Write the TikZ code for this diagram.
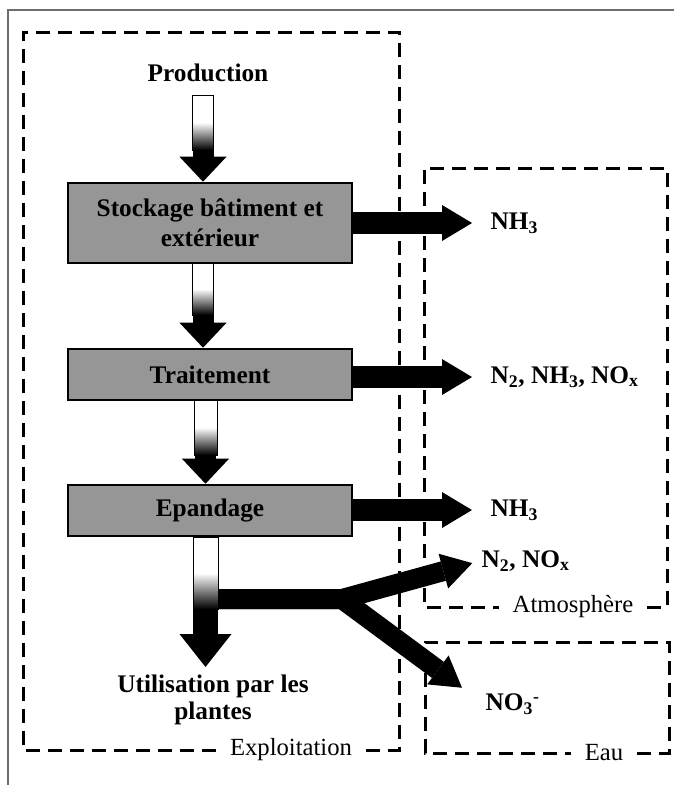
\documentclass[tikz,border=0pt]{standalone}
\usepackage{fontspec}
\setmainfont{Liberation Serif}
\usetikzlibrary{arrows.meta}

\tikzset{every picture/.style={line width=0.75pt}}
\tikzset{
  stagebox/.style={draw, line width=1.9pt, fill={rgb, 255:red, 150; green, 150; blue, 150}, minimum width=213pt, align=center, inner sep=0.75pt, font=\bfseries\fontsize{19}{22.5}\selectfont},
  flowlabel/.style={inner sep=0.75pt, align=center, font=\bfseries\fontsize{19}{20.5}\selectfont},
  zonelabel/.style={inner xsep=10pt, inner ysep=0pt, font=\fontsize{18.5}{20}\selectfont},
  zonebox/.style={line width=2.25pt, dash pattern=on 10.5pt off 6pt},
  sidearrow/.style={line width=16pt, -{Triangle[width=27pt, length=22.5pt, line width=0pt]}},
  downarrow/.style={line width=15.75pt, -{Triangle[width=35.25pt, length=18.75pt, line width=0pt]}},
  fadeshaft/.style={top color=white, bottom color=black, middle color=white, draw=black},
}

\begin{document}
\begin{tikzpicture}[x=0.75pt,y=0.75pt,yscale=-1,xscale=1]
\useasboundingbox (0,0) rectangle (674,785);

%Shape: Frame
\draw [color={rgb, 255:red, 110; green, 110; blue, 110 }, line width=1pt] (8,785) -- (8,10) -- (674,10) ;

% Text Node
\node [flowlabel] (prod) at (208,73) {Production};
% Text Node
\node [stagebox, minimum height=60pt] (stock) at (210,223) {Stockage bâtiment et\\extérieur};
% Text Node
\node [stagebox, minimum height=38.25pt] (trait) at (210,374.5) {Traitement};
% Text Node
\node [stagebox, minimum height=38.25pt] (epand) at (210,510.5) {Epandage};
% Text Node
\node [flowlabel] (plants) at (213,700) {Utilisation par les\\plantes};
% Text Node
\node [flowlabel, anchor=west] (gasa) at (489,223) {NH\textsubscript{3}};
% Text Node
\node [flowlabel, anchor=west] (gasb) at (489,377) {N\textsubscript{2}, NH\textsubscript{3}, NO\textsubscript{x}};
% Text Node
\node [flowlabel, anchor=west] (gasc) at (489,510) {NH\textsubscript{3}};
% Text Node
\node [flowlabel, anchor=west] (gasd) at (480,561) {N\textsubscript{2}, NO\textsubscript{x}};
% Text Node
\node [flowlabel, anchor=west] (leach) at (484,704) {NO\textsubscript{3}\textsuperscript{-}};

% Text Node
\node [zonelabel] (farmlab) at (291,750) {Exploitation};
% Text Node
\node [zonelabel] (airlab) at (573,607) {Atmosphère};
% Text Node
\node [zonelabel] (waterlab) at (604,753) {Eau};

%Shape: Rectangle Exploitation
\draw [zonebox] (farmlab.east) -- (399,750) -- (399,32) -- (23,32) -- (23,750) -- (farmlab.west) ;
%Shape: Rectangle Atmosphere
\draw [zonebox] (airlab.east) -- (667,607) -- (667,168) -- (424,168) -- (424,607) -- (airlab.west) ;
%Shape: Rectangle Eau
\draw [zonebox] (waterlab.east) -- (669,753) -- (669,642) -- (425,642) -- (425,753) -- (waterlab.west) ;

\coordinate (axisa) at (203,95);
\coordinate (axisb) at (205.5,0);
\coordinate (plantstip) at (205.5,667);
\coordinate (barstart) at (218,599);
\coordinate (fork) at (342,599);

%Straight Lines down
\draw [downarrow] (axisa) -- (stock.north -| axisa) ;
\draw [downarrow] (stock.south -| axisa) -- (trait.north -| axisa) ;
\draw [downarrow] (trait.south -| axisb) -- (epand.north -| axisb) ;
\draw [downarrow, line width=18.75pt, -{Triangle[width=39pt, length=24.75pt, line width=0pt]}] (epand.south -| axisb) -- (plantstip) ;

%Shape: shaded shafts
\shade [fadeshaft] (192.5,95) rectangle (213.5,150) ;
\shade [fadeshaft] (192.5,263) rectangle (213.5,315) ;
\shade [fadeshaft] (194,400) rectangle (217,455) ;
\shade [fadeshaft] (193,537) rectangle (218,609) ;

%Straight Lines sideways
\draw [sidearrow, shorten >=12.75pt] (stock.east |- gasa) -- (gasa.west) ;
\draw [sidearrow, shorten >=12.75pt] (trait.east |- gasb) -- (gasb.west) ;
\draw [sidearrow, shorten >=12.75pt] (epand.east |- gasc) -- (gasc.west) ;
\draw [sidearrow, line width=15pt, line join=miter, shorten >=6pt] (barstart) -- (fork) -- (gasd.west) ;
\draw [sidearrow, line width=15pt, line join=miter, shorten >=20.5pt] (barstart) -- (fork) -- (leach.west) ;

\end{tikzpicture}
\end{document}
